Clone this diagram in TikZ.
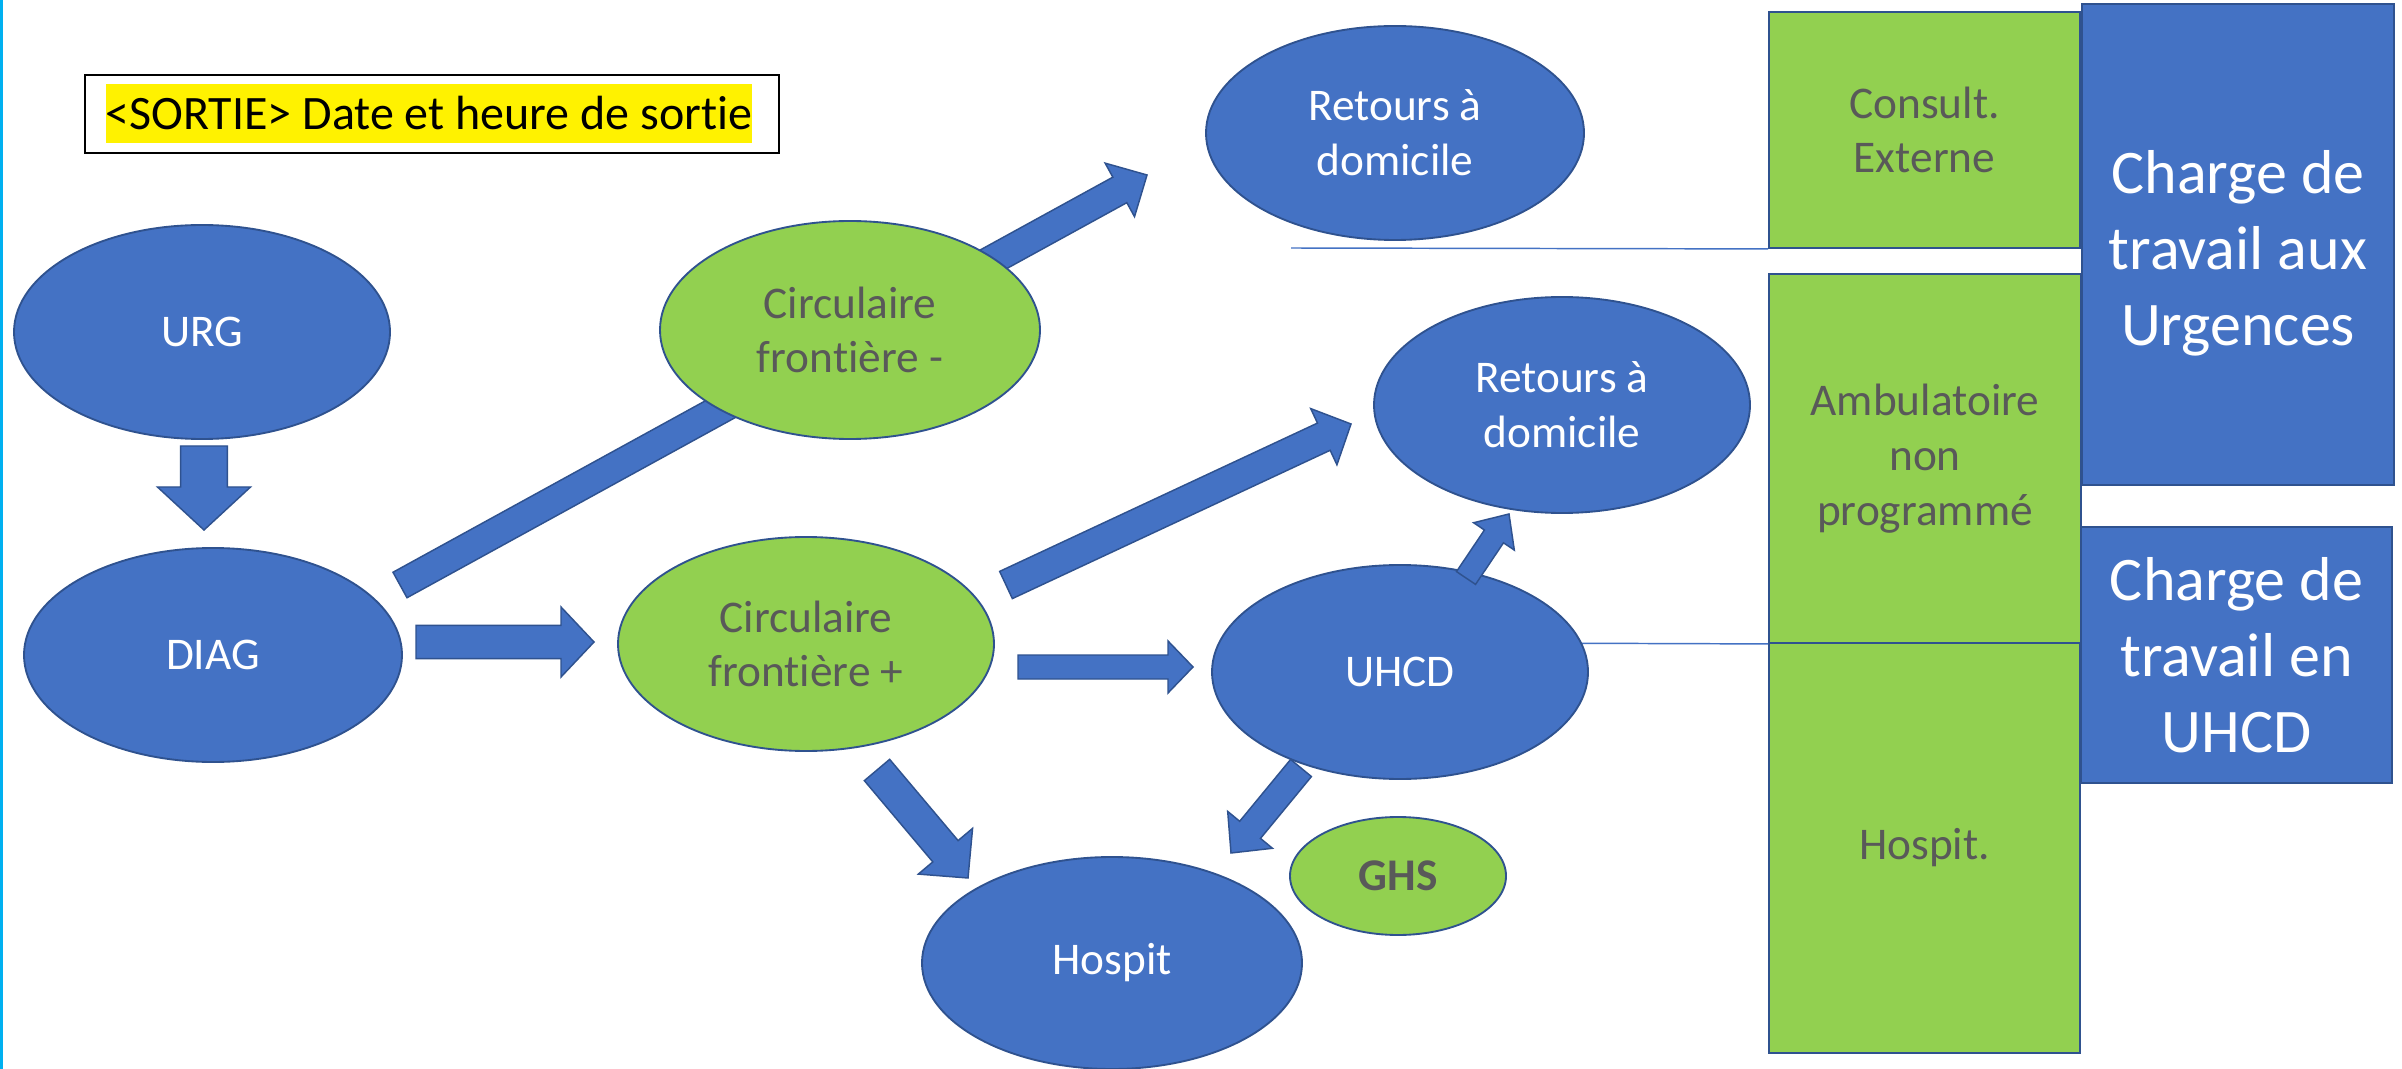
\documentclass[tikz,border=0pt]{standalone}
\usepackage{fontspec}
\setmainfont[Ligatures=NoCommon]{Carlito}
\usetikzlibrary{shapes.geometric,calc}
\definecolor{bluec}{HTML}{4472C4}
\definecolor{bordc}{HTML}{2F528F}
\definecolor{greenc}{HTML}{92D050}
\definecolor{greytxt}{HTML}{595959}
\definecolor{cyanline}{HTML}{00B0F0}
\newcommand{\blockarr}[5]{%
  \coordinate (bah) at ($(#2)!#5!(#1)$);
  \filldraw[barrow] ($(#1)!#3!90:(#2)$) -- ($(bah)!#3!-90:(#1)$) -- ($(bah)!#4!-90:(#1)$) -- (#2)
     -- ($(bah)!#4!90:(#1)$) -- ($(bah)!#3!90:(#1)$) -- ($(#1)!#3!-90:(#2)$) -- cycle;}
\tikzset{
  barrow/.style={fill=bluec, draw=bordc, line width=1.1pt, line join=miter},
  basefont/.style={font=\fontsize{34}{41}\selectfont, align=center},
  bigfont/.style={font=\fontsize{46.5}{57}\selectfont, align=center},
  blueell/.style={ellipse, draw=bordc, fill=bluec, line width=1.4pt, text=white, inner sep=0pt, basefont},
  greenell/.style={ellipse, draw=bordc, fill=greenc, line width=1.4pt, text=greytxt, inner sep=0pt, basefont},
  greenrect/.style={rectangle, draw=bordc, fill=greenc, line width=1.4pt, text=greytxt, inner sep=0pt, basefont},
  bluerect/.style={rectangle, draw=bordc, fill=bluec, line width=1.4pt, text=white, inner sep=0pt, bigfont},
  thinline/.style={draw=bluec, line width=1.1pt}
}
\begin{document}
\begin{tikzpicture}[x=0.75pt,y=-0.75pt]
\useasboundingbox (0,0) rectangle (2402,1069);
\fill[white] (0,0) rectangle (2402,1069);
\draw[cyanline, line width=2.2pt] (1.5,0) -- (1.5,1069);

% right-hand rectangles
\node[greenrect, minimum width=233.25pt, minimum height=177pt] (consult) at (1924.5,130) {Consult.\\Externe};
\node[greenrect, minimum width=234pt, minimum height=276.75pt] (ambu) at (1925,458.5) {Ambulatoire\\non\\programmé};
\node[greenrect, minimum width=233.25pt, minimum height=307.5pt] (hospr) at (1924.5,848) {Hospit.};
\node[bluerect, minimum width=234pt, minimum height=360.75pt] (chargeurg) at (2238,244.5) {};
\node[bigfont, text=white] (chargeurgtxt) at (2238,253) {Charge de\\travail aux\\Urgences};
\node[bluerect, minimum width=233.25pt, minimum height=192pt] (chargeuhcd) at (2236.5,655) {Charge de\\travail en\\UHCD};

% text box
\node[draw=black, line width=1.5pt, minimum width=520.5pt, minimum height=58.5pt, inner sep=0pt] (sortiebox) at (432,114) {};
\node[fill=yellow, text=black, inner xsep=0pt, inner ysep=0pt, minimum height=44.25pt, font=\fontsize{36}{43}\selectfont] (sortie) at (429,113.5) {<SORTIE> Date et heure de sortie};

% thin lines
\coordinate (l1) at (1291,248);
\draw[thinline] (l1) -- (consult.south west);

% long arrow behind Circulaire frontiere -
\coordinate (a3s) at (400,585);
\coordinate (a3e) at (1147,175);
\blockarr{a3s}{a3e}{10.9pt}{22.9pt}{23.25pt}

% ellipses
\node[blueell, minimum width=282pt, minimum height=160.5pt] (urg) at (202,332) {URG};
\node[blueell, minimum width=283.5pt, minimum height=160.5pt] (diag) at (213,655) {DIAG};
\node[greenell, minimum width=285pt, minimum height=163.5pt] (circm) at (850,330) {Circulaire\\frontière -};
\node[greenell, minimum width=282pt, minimum height=160.5pt] (circp) at (806,644) {Circulaire\\frontière +};
\node[blueell, minimum width=283.5pt, minimum height=160.5pt] (ret1) at (1395,133) {Retours à\\domicile};
\node[blueell, minimum width=282pt, minimum height=162pt] (ret2) at (1562,405) {Retours à\\domicile};
\draw[thinline] (1500,643) -- (ambu.south west);
\node[blueell, minimum width=282pt, minimum height=160.5pt] (uhcd) at (1400,672) {UHCD};
\node[blueell, minimum width=285pt, minimum height=159pt] (hospit) at (1112,963) {Hospit};
\node[greenell, minimum width=162pt, minimum height=88.5pt, font=\fontsize{34}{41}\selectfont\bfseries] (ghs) at (1398,876) {GHS};

% block arrows
\coordinate (a1s) at (204,446);  \coordinate (a1e) at (204,530);
\blockarr{a1s}{a1e}{17.6pt}{34.9pt}{32.25pt}
\coordinate (a2s) at (416,642);  \coordinate (a2e) at (594,642);
\blockarr{a2s}{a2e}{12.4pt}{26.25pt}{24.75pt}
\coordinate (a4s) at (1006,585); \coordinate (a4e) at (1351,424);
\blockarr{a4s}{a4e}{11.25pt}{23.25pt}{22.5pt}
\coordinate (a5s) at (1018,667); \coordinate (a5e) at (1193,667);
\blockarr{a5s}{a5e}{9pt}{19.5pt}{18.75pt}
\coordinate (a6s) at (877,770);  \coordinate (a6e) at (968,878);
\blockarr{a6s}{a6e}{12.4pt}{26.6pt}{26.25pt}
\coordinate (a7s) at (1301,768); \coordinate (a7e) at (1231,853);
\blockarr{a7s}{a7e}{10.1pt}{21.75pt}{22.5pt}
\coordinate (a8s) at (1466,578); \coordinate (a8e) at (1509,514);
\blockarr{a8s}{a8e}{8.6pt}{18.4pt}{20.25pt}
\end{tikzpicture}
\end{document}
